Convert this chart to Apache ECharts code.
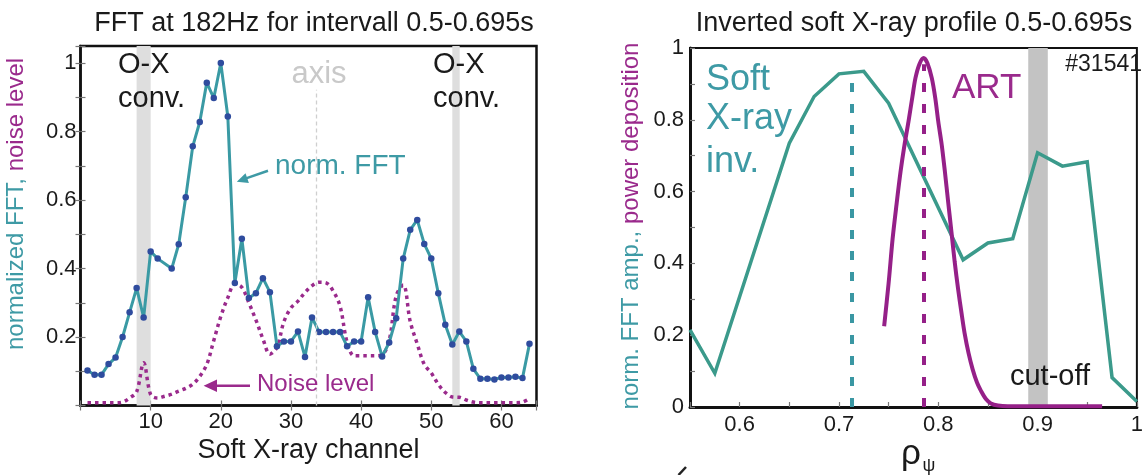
<!DOCTYPE html>
<html>
<head>
<meta charset="utf-8">
<title>FFT and soft X-ray profile</title>
<script src="https://cdn.jsdelivr.net/npm/echarts@6/dist/echarts.min.js"></script>
<style>
  html, body { margin: 0; padding: 0; background: #ffffff; }
  #chart { width: 1146px; height: 475px; }
</style>
</head>
<body>
<div id="chart"></div>
<script>
// ---- Left panel: FFT amplitude per soft X-ray channel ----
const fftChannels = [1, 2, 3, 4, 5, 6, 7, 8, 9, 10, 11, 13, 14, 15, 16, 17, 18, 19, 20, 21, 22, 23, 24, 25, 26, 27, 28, 29, 30, 31, 32, 33, 34, 35, 36, 37, 38, 39, 40, 41, 42, 43, 44, 45, 46, 47, 48, 49, 50, 51, 52, 53, 54, 55, 56, 57, 58, 59, 60, 61, 62, 63, 64];
const fftValues = [0.102, 0.09, 0.09, 0.121, 0.14, 0.2, 0.272, 0.343, 0.257, 0.45, 0.429, 0.40, 0.471, 0.608, 0.757, 0.828, 0.943, 0.898, 1.0, 0.844, 0.358, 0.487, 0.314, 0.328, 0.372, 0.331, 0.173, 0.187, 0.187, 0.216, 0.142, 0.257, 0.215, 0.215, 0.215, 0.215, 0.173, 0.187, 0.187, 0.316, 0.215, 0.143, 0.184, 0.255, 0.429, 0.513, 0.542, 0.472, 0.429, 0.328, 0.236, 0.178, 0.216, 0.187, 0.107, 0.078, 0.078, 0.076, 0.082, 0.082, 0.084, 0.080, 0.18];

const noiseChannels = [1, 2, 3, 4, 5, 6, 7, 8, 9, 10, 11, 12, 13, 14, 15, 16, 17, 18, 19, 20, 21, 22, 23, 24, 25, 26, 27, 28, 29, 30, 31, 32, 33, 34, 35, 36, 37, 38, 39, 40, 41, 42, 43, 44, 45, 46, 47, 48, 49, 50, 51, 52, 53, 54, 55, 56, 57, 58, 59, 60, 61, 62, 63, 64];
const noiseValues = [0.008, 0.008, 0.008, 0.008, 0.008, 0.01, 0.022, 0.04, 0.125, 0.032, 0.022, 0.027, 0.033, 0.042, 0.05, 0.062, 0.085, 0.12, 0.19, 0.26, 0.315, 0.355, 0.345, 0.3, 0.25, 0.195, 0.15, 0.17, 0.245, 0.285, 0.305, 0.33, 0.35, 0.36, 0.358, 0.335, 0.29, 0.185, 0.145, 0.145, 0.145, 0.145, 0.148, 0.19, 0.32, 0.352, 0.245, 0.18, 0.12, 0.095, 0.062, 0.038, 0.025, 0.024, 0.016, 0.01, 0.008, 0.008, 0.008, 0.008, 0.008, 0.008, 0.01, 0.02];

// O-X conversion channel ranges and the plasma axis channel
const oxConvBands = [[8, 10], [53, 54.05]];
const axisChannel = 33.6;
const axisLineTop = 0.922;

const channelTicks = [10, 20, 30, 40, 50, 60];
const fftTickLabels = [0.2, 0.4, 0.6, 0.8, 1];

// ---- Right panel: inverted soft X-ray profile and ART power deposition ----
const softXrayRho = [0.55, 0.575, 0.65, 0.675, 0.7, 0.725, 0.75, 0.825, 0.85, 0.875, 0.9, 0.925, 0.95, 0.975, 1.0];
const softXrayAmp = [0.215, 0.094, 0.735, 0.865, 0.928, 0.935, 0.846, 0.41, 0.457, 0.469, 0.708, 0.671, 0.683, 0.082, 0.015];

const artRho = [0.7455, 0.750, 0.754, 0.758, 0.762, 0.766, 0.770, 0.774, 0.777, 0.781, 0.7853, 0.789, 0.7935, 0.797, 0.800, 0.8035, 0.8067, 0.810, 0.8133, 0.8165, 0.820, 0.8235, 0.8265, 0.8305, 0.8347, 0.839, 0.843, 0.848, 0.853, 0.86, 0.87, 0.90, 0.93, 0.965];
const artPower = [0.225, 0.345, 0.468, 0.565, 0.655, 0.73, 0.795, 0.865, 0.916, 0.955, 0.972, 0.958, 0.916, 0.86, 0.795, 0.73, 0.655, 0.57, 0.487, 0.405, 0.328, 0.26, 0.206, 0.15, 0.104, 0.068, 0.045, 0.022, 0.01, 0.004, 0.002, 0.002, 0.002, 0.002];

// peak positions: [soft X-ray, ART]
const peakRho = [0.7125, 0.7856];
const peakTop = [0.93, 0.955];
const cutoffBand = [0.8906, 0.9103];

const rhoTicks = [0.6, 0.7, 0.8, 0.9, 1];
const ampTickLabels = [0, 0.2, 0.4, 0.6, 0.8, 1];

const FONT = '"Liberation Sans", Arial, Helvetica, sans-serif';
const INK = '#1a1a1a';
const TEAL_TEXT = '#3e9aa5';
const TEAL_FFT = '#3a9aa4';
const TEAL_PROFILE = '#3b9a8b';
const MARKER = '#2f4c9e';
const PURPLE = '#9a2a8c';
const PURPLE_LINE = '#952088';

function inList(list, v) {
  return list.some(t => Math.abs(t - v) < 1e-6);
}
function fmtTick(list) {
  return v => inList(list, v) ? (Math.abs(v - Math.round(v)) < 1e-6 ? String(Math.round(v)) : String(+v.toFixed(2))) : '';
}

const chart = echarts.init(document.getElementById('chart'), null, { renderer: 'canvas' });

const tickStyle = { inside: true, length: 5, lineStyle: { color: '#777', width: 1.2 } };

function label(x, y, text, size, fill, align) {
  return {
    type: 'text', x: x, y: y, z: 50,
    style: { text: text, font: size + 'px ' + FONT, fill: fill, align: align || 'left', verticalAlign: 'middle' }
  };
}

const option = {
  animation: false,
  backgroundColor: '#ffffff',
  textStyle: { fontFamily: FONT },
  title: [
    {
      text: 'FFT at 182Hz for intervall 0.5-0.695s',
      left: 314, top: 10.5, textAlign: 'center', padding: 0,
      textStyle: { fontSize: 27, fontWeight: 'normal', color: INK, fontFamily: FONT }
    },
    {
      text: 'Inverted soft X-ray profile 0.5-0.695s',
      left: 914, top: 10.5, textAlign: 'center', padding: 0,
      textStyle: { fontSize: 27, fontWeight: 'normal', color: INK, fontFamily: FONT }
    }
  ],
  grid: [
    { left: 80.5, right: 609.5, top: 46, bottom: 69.5, show: true, borderColor: '#111', borderWidth: 2.5, backgroundColor: 'transparent' },
    { left: 690, right: 2, top: 48, bottom: 68, show: true, borderColor: '#111', borderWidth: 2, backgroundColor: 'transparent' }
  ],
  xAxis: [
    {
      gridIndex: 0, type: 'value', min: 0, max: 65, interval: 10,
      axisLine: { show: true, lineStyle: { color: '#111', width: 2.5 } },
      axisTick: tickStyle,
      axisLabel: { formatter: fmtTick(channelTicks), fontSize: 22, color: INK, margin: 5, fontFamily: FONT },
      splitLine: { show: false },
      name: 'Soft X-ray channel', nameLocation: 'middle', nameGap: 25.5,
      nameTextStyle: { fontSize: 27, color: INK, fontFamily: FONT }
    },
    {
      gridIndex: 0, type: 'value', position: 'top', min: 0, max: 65, interval: 10,
      axisLine: { show: false }, axisTick: tickStyle, axisLabel: { show: false }, splitLine: { show: false }
    },
    {
      gridIndex: 1, type: 'value', min: 0.55, max: 1.0, interval: 0.05,
      axisLine: { show: true, lineStyle: { color: '#111', width: 3 } },
      axisTick: tickStyle,
      axisLabel: { formatter: fmtTick(rhoTicks), fontSize: 22, color: INK, margin: 7, fontFamily: FONT },
      splitLine: { show: false }
    }
  ],
  yAxis: [
    {
      gridIndex: 0, type: 'value', min: 0, max: 1.05, interval: 0.1,
      axisLine: { show: true, lineStyle: { color: '#111', width: 2.5 } },
      axisTick: tickStyle,
      axisLabel: { formatter: fmtTick(fftTickLabels), fontSize: 22, color: INK, margin: 4, fontFamily: FONT },
      splitLine: { show: false }
    },
    {
      gridIndex: 0, type: 'value', position: 'right', min: 0, max: 1.05, interval: 0.1,
      axisLine: { show: false }, axisTick: tickStyle, axisLabel: { show: false }, splitLine: { show: false }
    },
    {
      gridIndex: 1, type: 'value', min: 0, max: 1, interval: 0.1,
      axisLine: { show: true, lineStyle: { color: '#111', width: 3 } },
      axisTick: tickStyle,
      axisLabel: { formatter: fmtTick(ampTickLabels), fontSize: 22, color: INK, margin: 6, fontFamily: FONT },
      splitLine: { show: false }
    }
  ],
  series: [
    {
      name: 'Noise level', type: 'line', xAxisIndex: 0, yAxisIndex: 0, z: 2,
      data: noiseChannels.map((c, i) => [c, noiseValues[i]]),
      smooth: 0.35, showSymbol: false, symbol: 'none',
      lineStyle: { color: PURPLE, width: 3.5, type: [3.5, 4], cap: 'butt' },
      markArea: {
        silent: true,
        itemStyle: { color: '#dedede' },
        data: oxConvBands.map(b => [{ xAxis: b[0] }, { xAxis: b[1] }])
      },
      markLine: {
        silent: true, symbol: ['none', 'none'], label: { show: false },
        lineStyle: { color: '#cfcfcf', width: 1.3, type: [4, 3] },
        data: [[{ coord: [axisChannel, 0] }, { coord: [axisChannel, axisLineTop] }]]
      }
    },
    {
      name: 'norm. FFT', type: 'line', xAxisIndex: 0, yAxisIndex: 0, z: 4,
      data: fftChannels.map((c, i) => [c, fftValues[i]]),
      symbol: 'circle', symbolSize: 6.5, showSymbol: true,
      itemStyle: { color: MARKER, borderWidth: 0 },
      lineStyle: { color: TEAL_FFT, width: 3 }
    },
    {
      name: 'Soft X-ray inv.', type: 'line', xAxisIndex: 2, yAxisIndex: 2, z: 3,
      data: softXrayRho.map((r, i) => [r, softXrayAmp[i]]),
      symbol: 'none', showSymbol: false,
      lineStyle: { color: TEAL_PROFILE, width: 3.5, join: 'miter' },
      markArea: {
        silent: true,
        itemStyle: { color: '#c3c3c3' },
        data: [[{ xAxis: cutoffBand[0] }, { xAxis: cutoffBand[1] }]]
      },
      markLine: {
        silent: true, symbol: ['none', 'none'], label: { show: false },
        lineStyle: { color: '#3a97a3', width: 4, type: [9, 12] },
        data: [[{ coord: [peakRho[0], 0] }, { coord: [peakRho[0], peakTop[0]] }]]
      }
    },
    {
      name: 'ART', type: 'line', xAxisIndex: 2, yAxisIndex: 2, z: 4,
      data: artRho.map((r, i) => [r, artPower[i]]),
      smooth: 0.3, symbol: 'none', showSymbol: false,
      lineStyle: { color: PURPLE_LINE, width: 4 },
      markLine: {
        silent: true, symbol: ['none', 'none'], label: { show: false },
        lineStyle: { color: PURPLE_LINE, width: 4, type: [9, 12] },
        data: [[{ coord: [peakRho[1], 0] }, { coord: [peakRho[1], peakTop[1]] }]]
      }
    }
  ],
  graphic: [
    // left panel annotations
    label(118, 65, 'O-X', 29, INK),
    label(118, 99, 'conv.', 29, INK),
    label(433, 65, 'O-X', 29, INK),
    label(433, 99, 'conv.', 29, INK),
    label(319, 74, 'axis', 31, '#c9c9c9', 'center'),
    label(275, 166, 'norm. FFT', 28, TEAL_TEXT),
    { type: 'line', z: 50, shape: { x1: 268, y1: 170.7, x2: 246, y2: 178.4 }, style: { stroke: TEAL_TEXT, lineWidth: 2.5 } },
    { type: 'polygon', z: 50, shape: { points: [[236.8, 181.7], [248.9, 182.9], [245.5, 173.3]] }, style: { fill: TEAL_TEXT } },
    label(257, 384, 'Noise level', 24, PURPLE),
    { type: 'line', z: 50, shape: { x1: 250, y1: 385.7, x2: 215, y2: 385.7 }, style: { stroke: PURPLE, lineWidth: 2.5 } },
    { type: 'polygon', z: 50, shape: { points: [[203.6, 385.7], [217, 379.5], [217, 391.9]] }, style: { fill: PURPLE } },
    {
      type: 'text', x: 16.6, y: 204, z: 50, rotation: Math.PI / 2,
      style: {
        text: '{a|normalized FFT, }{b|noise level}', font: '24px ' + FONT, align: 'center', verticalAlign: 'middle',
        rich: { a: { fill: TEAL_TEXT, font: '24px ' + FONT }, b: { fill: PURPLE, font: '24px ' + FONT } }
      }
    },
    // right panel annotations
    label(706, 80, 'Soft', 36, TEAL_TEXT),
    label(706, 119, 'X-ray', 36, TEAL_TEXT),
    label(706, 162, 'inv.', 36, TEAL_TEXT),
    label(952, 88.5, 'ART', 35, PURPLE),
    label(1142, 64.5, '#31541', 23, INK, 'right'),
    label(1050, 376.5, 'cut-off', 29, INK, 'center'),
    label(901, 454.5, 'ρ', 35, INK),
    label(922.5, 466, 'ψ', 18, INK),
    {
      type: 'text', x: 631.6, y: 226, z: 50, rotation: Math.PI / 2,
      style: {
        text: '{a|norm. FFT amp., }{b|power deposition}', font: '24px ' + FONT, align: 'center', verticalAlign: 'middle',
        rich: { a: { fill: TEAL_TEXT, font: '24px ' + FONT }, b: { fill: PURPLE, font: '24px ' + FONT } }
      }
    },
    { type: 'line', z: 50, shape: { x1: 686, y1: 467, x2: 678.5, y2: 475 }, style: { stroke: '#222', lineWidth: 2.5 } }
  ]
};

chart.setOption(option);
</script>
</body>
</html>
